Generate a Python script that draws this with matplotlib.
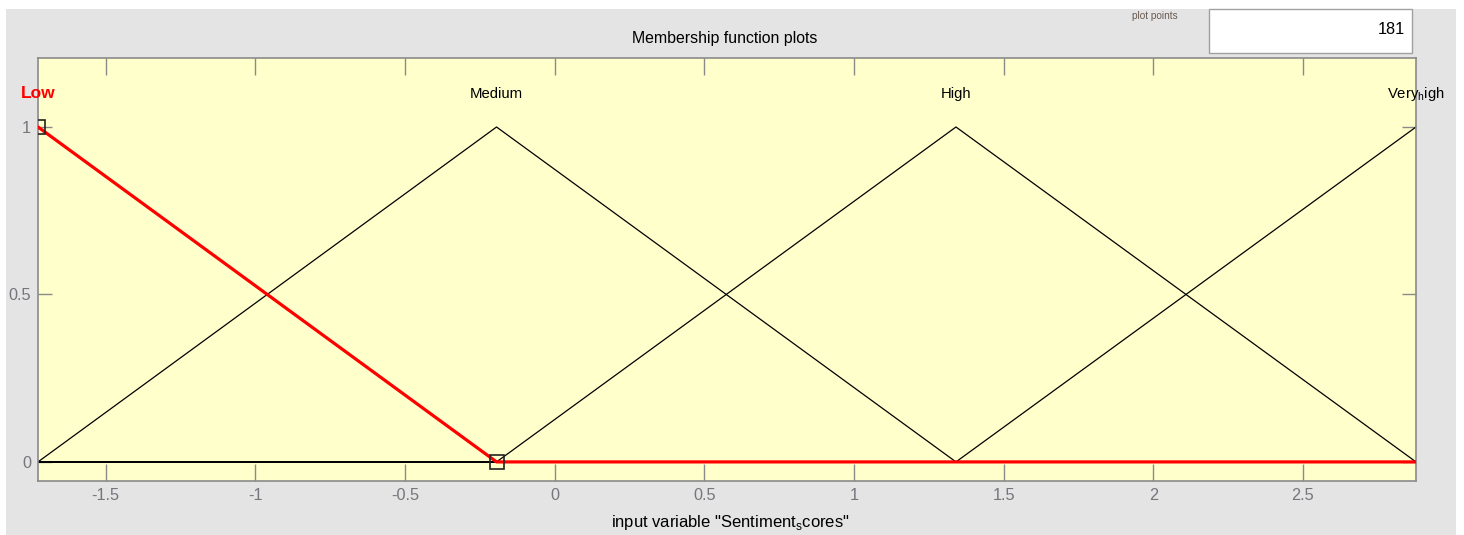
import matplotlib.pyplot as plt
from matplotlib.patches import Rectangle

plt.rcParams['font.family'] = ['Liberation Sans', 'DejaVu Sans']

# membership functions of input variable "Sentiment_scores"
x_range = [-1.726, 2.878]
low_x = [-1.726, -0.194, 2.878]
low_y = [1, 0, 0]
medium_x = [-1.726, -0.194, 1.341, 2.878]
medium_y = [0, 1, 0, 0]
high_x = [-1.726, -0.194, 1.341, 2.878]
high_y = [0, 0, 1, 0]
veryhigh_x = [-1.726, 1.341, 2.878]
veryhigh_y = [0, 0, 1]
mf_labels = ['Low', 'Medium', 'High', r'Very$_\mathregular{h}$igh']
mf_peaks = [-1.726, -0.194, 1.341, 2.878]
plot_points = 181

x_ticks = [-1.5, -1, -0.5, 0, 0.5, 1, 1.5, 2, 2.5]
y_ticks = [0, 0.5, 1]

W, H = 1464, 535
fig = plt.figure(figsize=(W / 100, H / 100), dpi=100)
fig.patch.set_facecolor('white')

# grey window background
fig.patches.append(Rectangle((6 / W, 0), 1450 / W, 1 - 9 / H, transform=fig.transFigure,
                             facecolor='#e4e4e4', edgecolor='none', zorder=-10))
# "plot points" edit box
fig.patches.append(Rectangle((1209 / W, 1 - 53 / H), 203 / W, 44 / H, transform=fig.transFigure,
                             facecolor='white', edgecolor='#a0a0a0', lw=1, zorder=-9))
fig.text(1155 / W, 1 - 16 / H, 'plot points', fontsize=7.2, color='#6a5a50',
         ha='center', va='center')
fig.text(1405 / W, 1 - 29 / H, str(plot_points), fontsize=11.8, color='black',
         ha='right', va='center')

ax = fig.add_axes([38 / W, 1 - 481 / H, 1378 / W, 423 / H])
ax.set_zorder(5)
ax.set_facecolor('#ffffcc')

ax.plot(medium_x, medium_y, color='black', lw=0.9)
ax.plot(high_x, high_y, color='black', lw=0.9)
ax.plot(veryhigh_x, veryhigh_y, color='black', lw=0.9)
ax.plot(x_range, [0, 0], color='black', lw=1.4, zorder=2)
ax.plot(low_x, low_y, color='red', lw=2.3, zorder=3)
ax.plot([low_x[0], low_x[1]], [low_y[0], low_y[1]], ls='none', marker='s',
        markersize=10.5, markerfacecolor='none', markeredgecolor='#222222', mew=1.2,
        zorder=4)

for name, px in zip(mf_labels, mf_peaks):
    if name == 'Low':
        ax.text(px, 1.10, name, ha='center', va='center', fontsize=12.5, color='red',
                fontweight='bold', clip_on=False)
    else:
        ax.text(px, 1.10, name, ha='center', va='center', fontsize=10.7, color='black',
                clip_on=False)

ax.set_xlim(x_range)
ax.set_ylim(-0.057, 1.206)
ax.set_xticks(x_ticks)
ax.set_xticklabels(['-1.5', '-1', '-0.5', '0', '0.5', '1', '1.5', '2', '2.5'])
ax.set_yticks(y_ticks)
ax.set_yticklabels(['0', '0.5', '1'])
ax.tick_params(axis='x', direction='in', length=12.5, width=1, color='#8a8a8a',
               top=True, labelcolor='#75757c', labelsize=11.7, pad=5)
ax.tick_params(axis='y', direction='in', length=10, width=1, color='#8a8a8a',
               right=True, labelcolor='#75757c', labelsize=11.7, pad=5)
for s in ax.spines.values():
    s.set_color('#8a8a8a')
    s.set_linewidth(1.2)

fig.text(725 / W, 1 - 38 / H, 'Membership function plots', ha='center', va='center',
         fontsize=11.4, color='black')
fig.text(730 / W, 1 - 522 / H, r'input variable "Sentiment$_\mathregular{s}$cores"',
         ha='center', va='center', fontsize=12, color='black')

fig.savefig('out.png', dpi=100)
